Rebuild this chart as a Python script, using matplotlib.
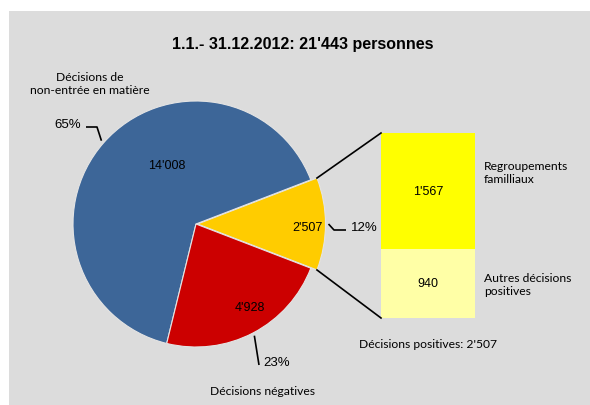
import matplotlib.pyplot as plt
from matplotlib.patches import Rectangle
import numpy as np

# Données
title = "1.1.- 31.12.2012: 21'443 personnes"
pie_values = [2507, 14008, 4928]
pie_colors = ['#FFCC00', '#3D6698', '#CC0000']
pie_pct = ['12%', '65%', '23%']
pie_names = ['', 'Décisions de\nnon-entrée en matière', 'Décisions négatives']
bar_values = [940, 1567]  # du bas vers le haut
bar_colors = ['#FFFFA6', '#FFFF00']
bar_names = ['Autres décisions\npositives', 'Regroupements\nfamilliaux']
bar_total_label = "Décisions positives: 2'507"


def fmt(v):
    return f"{v:,}".replace(',', "'")


W, H = 590, 406
fig = plt.figure(figsize=(W / 100, H / 100), dpi=100)
fig.patch.set_facecolor('white')
fig.add_artist(Rectangle((9 / W, 0), 1 - 9 / W, 1 - 12 / H, transform=fig.transFigure,
                         facecolor='#DCDCDC', edgecolor='none', zorder=0))

ax = fig.add_axes([0, 0, 1, 1])
ax.set_xlim(0, W)
ax.set_ylim(0, H)
ax.set_aspect('equal')
ax.axis('off')
ax.patch.set_alpha(0)


def py(y):
    # position en pixels depuis le haut -> coordonnées de l'axe
    return H - y


num_font = 'Liberation Sans'
lab_font = 'Lato'

# Camembert
center = (196, py(225))
radius = 123
start = -360 * pie_values[0] / sum(pie_values) / 2
# explode est en unités de données (pas en fraction du rayon)
wedges, _ = ax.pie(pie_values, colors=pie_colors, startangle=start, center=center,
                   radius=radius, explode=[1.5, 0, 0], counterclock=True,
                   frame=True, wedgeprops=dict(edgecolor='#E4E4E4', linewidth=0.8))
# la part jaune dépasse un peu du cercle
wedges[0].set_radius(radius + 5)
ax.set_xlim(0, W)
ax.set_ylim(0, H)
ax.axis('off')

# valeurs dans les parts
val_pos = [(307, 228), (167, 166), (250, 308)]
for v, (x, y) in zip(pie_values, val_pos):
    ax.text(x, py(y), fmt(v), ha='center', va='center', fontsize=9, family=num_font)

# lignes de rappel et pourcentages
elbows = [[(334, 231), (346, 231)], [(97, 128), (86, 128)], [(259, 366)]]
pct_pos = [(351, 228, 'left'), (81, 125, 'right'), (263, 363, 'left')]
for w, el, (tx, ty, ha), pct in zip(wedges, elbows, pct_pos, pie_pct):
    a = np.deg2rad((w.theta1 + w.theta2) / 2)
    cx, cy = w.center
    r = w.r + 3
    xs = [cx + r * np.cos(a)] + [p[0] for p in el]
    ys = [cy + r * np.sin(a)] + [py(p[1]) for p in el]
    ax.plot(xs, ys, color='black', lw=1.2, solid_capstyle='butt')
    ax.text(tx, py(ty), pct, ha=ha, va='center', fontsize=9.5, family=num_font)

ax.text(90, py(84), pie_names[1], ha='center', va='center', fontsize=8.7,
        family=lab_font, linespacing=1.3)
ax.text(262, py(392), pie_names[2], ha='center', va='center', fontsize=8.7, family=lab_font)

# Barre empilée
scale = 185 / sum(bar_values)
bar_x, bar_w = 428, 94
bottom = py(319)
bars = []
for v, c in zip(bar_values, bar_colors):
    b = ax.bar(bar_x, v * scale, bottom=bottom, width=bar_w, color=c, edgecolor='none')[0]
    ax.text(bar_x, bottom + v * scale / 2, fmt(v), ha='center', va='center',
            fontsize=9, family=num_font)
    bars.append(b)
    bottom += v * scale

ax.text(484, py(285), bar_names[0], ha='left', va='center', fontsize=8.7,
        family=lab_font, linespacing=1.3)
ax.text(484, py(173), bar_names[1], ha='left', va='center', fontsize=8.7,
        family=lab_font, linespacing=1.3)
ax.text(bar_x, py(345), bar_total_label, ha='center', va='center', fontsize=8.7,
        family=lab_font)

# lignes de liaison part jaune -> barre
yw = wedges[0]
cx, cy = yw.center
for ang, (bx, by) in [(yw.theta2, (bars[1].get_x(), bars[1].get_y() + bars[1].get_height())),
                      (yw.theta1, (bars[0].get_x(), bars[0].get_y()))]:
    a = np.deg2rad(ang)
    ax.plot([cx + yw.r * np.cos(a), bx], [cy + yw.r * np.sin(a), by],
            color='black', lw=1.2)

ax.text(303, py(44), title, ha='center', va='center', fontsize=11.5,
        fontweight='bold', family=num_font)

fig.savefig('out.png', dpi=100, facecolor=fig.get_facecolor())
plt.close()
